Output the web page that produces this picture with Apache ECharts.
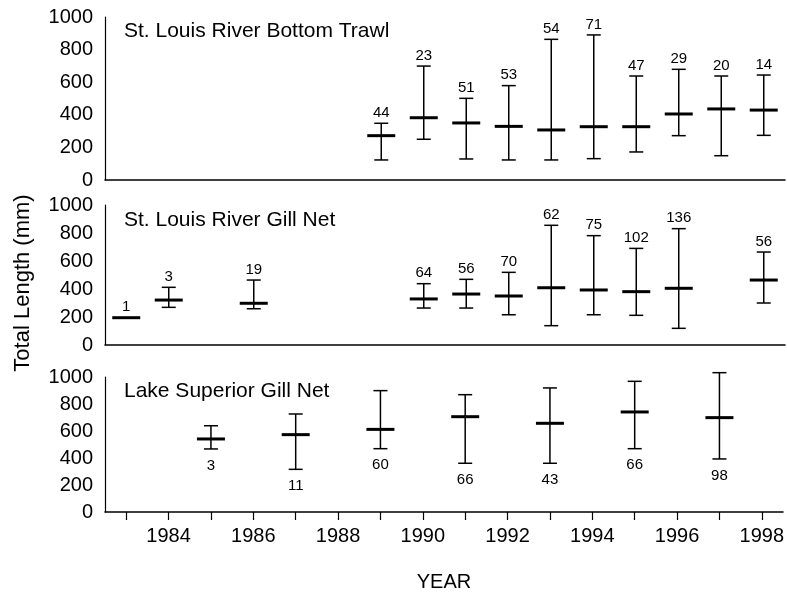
<!DOCTYPE html>
<html>
<head>
<meta charset="utf-8">
<script src="https://cdn.jsdelivr.net/npm/echarts@6/dist/echarts.min.js"></script>
<style>html,body{margin:0;padding:0;background:#fff}#c{width:787px;height:594px}</style>
</head>
<body>
<div id="c"></div>
<script>
// ---- data ----
const years = ['1983','1984','1985','1986','1987','1988','1989','1990','1991','1992','1993','1994','1995','1996','1997','1998'];

const trawlYears = ['1989','1990','1991','1992','1993','1994','1995','1996','1997','1998'];
const trawlMin   = [123, 250, 129, 123, 123, 131, 172, 272, 149, 274];
const trawlMean  = [272, 382, 350, 329, 307, 327, 327, 405, 436, 429];
const trawlMax   = [348, 699, 501, 579, 863, 890, 638, 679, 638, 644];
const trawlN     = [44, 23, 51, 53, 54, 71, 47, 29, 20, 14];

const slrGillYears = ['1983','1984','1986','1990','1991','1992','1993','1994','1995','1996','1998'];
const slrGillMin   = [195, 269, 259, 264, 264, 216, 138, 216, 212, 119, 300];
const slrGillMean  = [195, 321, 298, 329, 364, 350, 409, 393, 381, 405, 464];
const slrGillMax   = [195, 412, 464, 438, 469, 519, 855, 781, 690, 831, 664];
const slrGillN     = [1, 3, 19, 64, 56, 70, 62, 75, 102, 136, 56];

const lsGillYears = ['1985','1987','1989','1991','1993','1995','1997'];
const lsGillMin   = [467, 316, 469, 361, 361, 469, 393];
const lsGillMean  = [541, 573, 612, 706, 657, 741, 699];
const lsGillMax   = [639, 726, 899, 869, 919, 968, 1032];
const lsGillN     = [3, 11, 60, 66, 43, 66, 98];

const yTicks = [0, 200, 400, 600, 800, 1000];
const panelTitles = ['St. Louis River Bottom Trawl', 'St. Louis River Gill Net', 'Lake Superior Gill Net'];

// ---- build ----
const FONT = '"Liberation Sans", Arial, Helvetica, sans-serif';
function rows(ys, mn, me, mx, n) { return ys.map((y, i) => [y, mn[i], me[i], mx[i], n[i]]); }

function makeRender(labelBelow) {
  return function (params, api) {
    const x = api.value(0);
    const lo = api.value(1), mid = api.value(2), hi = api.value(3), n = api.value(4);
    const pLo = api.coord([x, lo]), pMid = api.coord([x, mid]), pHi = api.coord([x, hi]);
    const cx = pMid[0];
    const stroke = { stroke: '#000', lineWidth: 1.5 };
    const children = [];
    if (hi > lo) {
      children.push({ type: 'line', shape: { x1: cx, y1: pHi[1], x2: cx, y2: pLo[1] }, style: stroke });
      children.push({ type: 'line', shape: { x1: cx - 7, y1: pHi[1], x2: cx + 7, y2: pHi[1] }, style: stroke });
      children.push({ type: 'line', shape: { x1: cx - 7, y1: pLo[1], x2: cx + 7, y2: pLo[1] }, style: stroke });
    }
    children.push({ type: 'line', shape: { x1: cx - 14, y1: pMid[1], x2: cx + 14, y2: pMid[1] }, style: { stroke: '#000', lineWidth: 3 } });
    const ty = labelBelow ? pLo[1] + 9 : Math.min(pHi[1], pMid[1]) - 3;
    children.push({
      type: 'text',
      style: {
        text: String(n), x: cx, y: ty,
        align: 'center', verticalAlign: labelBelow ? 'top' : 'bottom',
        font: '15px ' + FONT, fill: '#000'
      }
    });
    return { type: 'group', children };
  };
}

const grids = [
  { left: 105, width: 680, top: 17, height: 163 },
  { left: 105, width: 680, top: 205, height: 140 },
  { left: 105, width: 680, top: 377, height: 135 }
];

const xAxes = grids.map((g, i) => ({
  type: 'category', gridIndex: i, data: years, boundaryGap: true,
  axisLine: { show: true, lineStyle: { color: '#000', width: 1.5 } },
  axisTick: { show: i === 2, alignWithLabel: true, interval: 0, length: 8, lineStyle: { color: '#000', width: 1.2 } },
  axisLabel: {
    show: i === 2, color: '#000', fontSize: 20, fontFamily: FONT, margin: 14,
    interval: function (idx) { return idx % 2 === 1; }
  },
  splitLine: { show: false },
  name: i === 2 ? 'YEAR' : '', nameLocation: 'middle', nameGap: 60,
  nameTextStyle: { color: '#000', fontSize: 20, fontFamily: FONT }
}));

const yAxes = grids.map((g, i) => ({
  type: 'value', gridIndex: i, min: yTicks[0], max: yTicks[yTicks.length - 1], interval: yTicks[1] - yTicks[0],
  axisLine: { show: true, lineStyle: { color: '#000', width: 1.2 } },
  axisTick: { show: false },
  splitLine: { show: false },
  axisLabel: { color: '#000', fontSize: 20, fontFamily: FONT, margin: 12, formatter: function (v) { return String(v); } }
}));

const seriesData = [
  rows(trawlYears, trawlMin, trawlMean, trawlMax, trawlN),
  rows(slrGillYears, slrGillMin, slrGillMean, slrGillMax, slrGillN),
  rows(lsGillYears, lsGillMin, lsGillMean, lsGillMax, lsGillN)
];

const series = seriesData.map((d, i) => ({
  type: 'custom', xAxisIndex: i, yAxisIndex: i, clip: false,
  renderItem: makeRender(i === 2),
  encode: { x: 0, y: [1, 2, 3] },
  data: d, silent: true
}));

const titleY = [33, 222, 393];
const graphics = panelTitles.map((t, i) => ({
  type: 'text', left: 124, top: titleY[i] - 12,
  style: { text: t, font: '21px ' + FONT, fill: '#000' }
}));
graphics.push({
  type: 'text', x: 23, y: 283, rotation: Math.PI / 2,
  style: { text: 'Total Length (mm)', font: '22px ' + FONT, fill: '#000', align: 'center', verticalAlign: 'middle' }
});

const chart = echarts.init(document.getElementById('c'), null, { renderer: 'canvas' });
chart.setOption({
  animation: false,
  backgroundColor: '#fff',
  grid: grids,
  xAxis: xAxes,
  yAxis: yAxes,
  series: series,
  graphic: graphics
});
</script>
</body>
</html>
